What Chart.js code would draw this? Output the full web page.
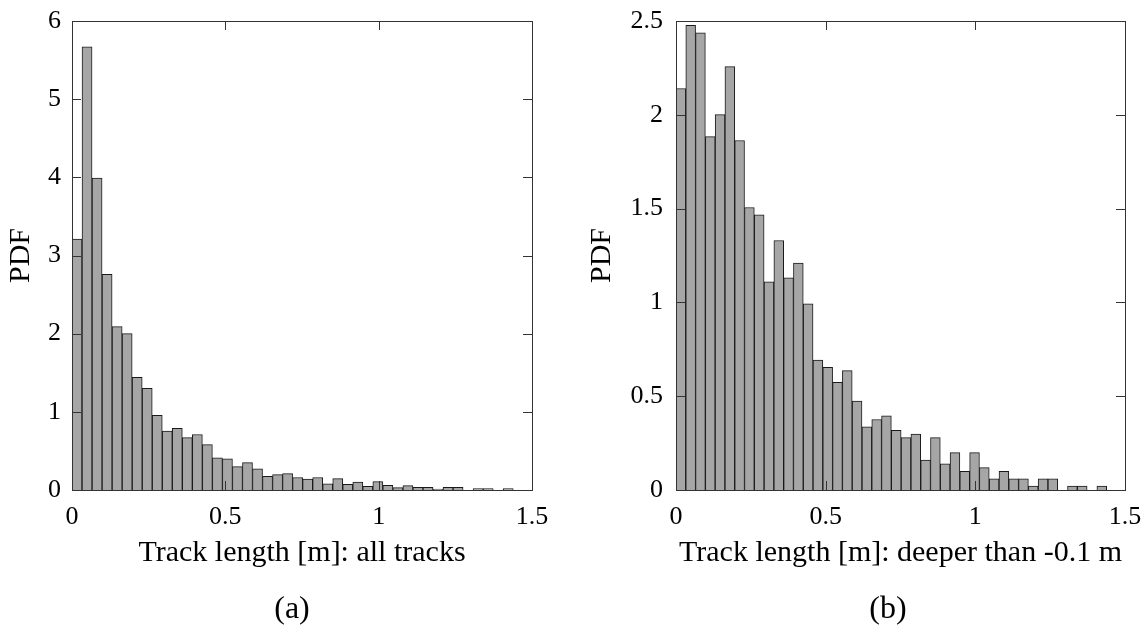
<!DOCTYPE html>
<html>
<head>
<meta charset="utf-8">
<script src="https://cdn.jsdelivr.net/npm/chart.js@4/dist/chart.umd.min.js"></script>
<style>
  body { margin: 0; background: #fff; }
  #wrap { position: relative; width: 1148px; height: 632px; }
  canvas { position: absolute; top: 0; }
</style>
</head>
<body>
<div id="wrap">
  <canvas id="chart-a" width="574" height="632" style="left:0"></canvas>
  <canvas id="chart-b" width="574" height="632" style="left:574px"></canvas>
</div>
<script>
// histogram bins (same bin width in both panels)
const binWidth = 0.0327;

// PDF of track length, all tracks (panel a)
const pdfAll = [3.21, 5.67, 3.99, 2.76, 2.09, 2.00, 1.44, 1.30, 0.955, 0.755,
  0.79, 0.67, 0.71, 0.58, 0.41, 0.40, 0.30, 0.35, 0.27, 0.175,
  0.196, 0.21, 0.16, 0.14, 0.16, 0.08, 0.145, 0.072, 0.10, 0.047,
  0.107, 0.06, 0.03, 0.055, 0.034, 0.034, 0.013, 0.034, 0.034, 0,
  0.017, 0.017, 0, 0.017];

// PDF of track length, deeper than -0.1 m (panel b)
const pdfDeep = [2.14, 2.477, 2.437, 1.884, 2.001, 2.257, 1.863, 1.506, 1.467, 1.110,
  1.330, 1.131, 1.209, 0.993, 0.693, 0.654, 0.574, 0.636, 0.474, 0.337,
  0.376, 0.396, 0.318, 0.279, 0.298, 0.160, 0.279, 0.140, 0.199, 0.099,
  0.199, 0.119, 0.060, 0.099, 0.060, 0.060, 0.021, 0.060, 0.060, 0,
  0.021, 0.021, 0, 0.021];

const xTicks = [0, 0.5, 1, 1.5];
const yTicksA = [0, 1, 2, 3, 4, 5, 6];
const yTicksB = [0, 0.5, 1, 1.5, 2, 2.5];

const xTitleA = "Track length [m]: all tracks";
const xTitleB = "Track length [m]: deeper than -0.1 m";

const fontFamily = "'Liberation Serif', 'Times New Roman', serif";
const axisColor = "#333";

// box around the plot + inward ticks on all four sides, drawn over the bars
const framePlugin = {
  id: "frame",
  afterDatasetsDraw(chart, args, opts) {
    const { ctx, chartArea: a, scales } = chart;
    const tick = 9;
    ctx.save();
    ctx.strokeStyle = axisColor;
    ctx.lineWidth = 1;
    ctx.beginPath();
    scales.x.ticks.forEach((t) => {
      const px = Math.round(scales.x.getPixelForValue(t.value)) + 0.5;
      ctx.moveTo(px, a.bottom);
      ctx.lineTo(px, a.bottom - tick);
      ctx.moveTo(px, a.top);
      ctx.lineTo(px, a.top + tick);
    });
    scales.y.ticks.forEach((t) => {
      const py = Math.round(scales.y.getPixelForValue(t.value)) + 0.5;
      ctx.moveTo(a.left, py);
      ctx.lineTo(a.left + tick, py);
      ctx.moveTo(a.right, py);
      ctx.lineTo(a.right - tick, py);
    });
    ctx.stroke();
    ctx.strokeRect(Math.round(a.left) + 0.5, Math.round(a.top) + 0.5,
      Math.round(a.right - a.left), Math.round(a.bottom - a.top));
    // panel caption
    ctx.fillStyle = "#000";
    ctx.font = "32px " + fontFamily;
    ctx.textAlign = "center";
    ctx.textBaseline = "middle";
    ctx.fillText(opts.caption, opts.captionX, 610);
    ctx.restore();
  }
};

function makeHistogram(canvasId, values, yTicks, yMax, xTitle, caption, captionX, layout) {
  const points = values.map((v, i) => ({ x: (i + 0.5) * binWidth, y: v }));
  return new Chart(document.getElementById(canvasId), {
    type: "bar",
    data: {
      datasets: [{
        data: points,
        backgroundColor: "#a6a6a6",
        borderColor: "#1a1a1a",
        borderWidth: 1,
        barPercentage: 1,
        categoryPercentage: 1
      }]
    },
    options: {
      responsive: false,
      animation: false,
      events: [],
      layout: { padding: { top: 21, left: 0, right: layout.right, bottom: 61 } },
      plugins: {
        legend: { display: false },
        tooltip: { enabled: false },
        frame: { caption: caption, captionX: captionX }
      },
      scales: {
        x: {
          type: "linear",
          min: 0,
          max: 1.5,
          offset: false,
          grid: { display: false, offset: false, drawTicks: false },
          border: { display: false },
          afterBuildTicks: (s) => { s.ticks = xTicks.map((v) => ({ value: v })); },
          afterFit: (s) => {
            s.height = 81;
            s.paddingLeft = 0;
            s.paddingRight = 0;
          },
          ticks: {
            color: "#000",
            padding: 12,
            maxRotation: 0,
            callback: (v) => String(v),
            font: { family: fontFamily, size: 26 }
          },
          title: {
            display: true,
            text: xTitle,
            color: "#000",
            padding: 0,
            font: { family: fontFamily, size: 30 }
          }
        },
        y: {
          min: 0,
          max: yMax,
          grid: { display: false, drawTicks: false },
          border: { display: false },
          afterBuildTicks: (s) => { s.ticks = yTicks.map((v) => ({ value: v })); },
          afterFit: (s) => {
            s.width = layout.left;
            s.paddingTop = 0;
            s.paddingBottom = 0;
          },
          ticks: {
            color: "#000",
            padding: layout.tickPad,
            callback: (v) => String(v),
            font: { family: fontFamily, size: 26 }
          },
          title: {
            display: true,
            text: "PDF",
            color: "#000",
            padding: { top: layout.titlePad, bottom: 0 },
            font: { family: fontFamily, size: 30 }
          }
        }
      }
    },
    plugins: [framePlugin]
  });
}

makeHistogram("chart-a", pdfAll, yTicksA, 6, xTitleA, "(a)", 292,
  { left: 72, right: 42, tickPad: 11, titlePad: 3 });
makeHistogram("chart-b", pdfDeep, yTicksB, 2.5, xTitleB, "(b)", 314,
  { left: 102, right: 23, tickPad: 13, titlePad: 10 });
</script>
</body>
</html>
